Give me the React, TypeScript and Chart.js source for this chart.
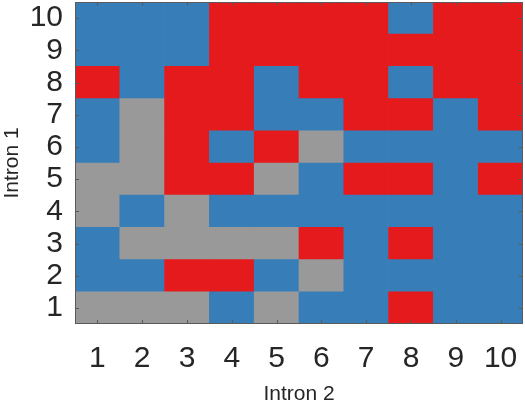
import React, { useEffect, useRef } from "react";
import { Chart, registerables } from "chart.js";

Chart.register(...registerables);

// Column categories (Intron 2) and row values (Intron 1)
const xLabels = ["1", "2", "3", "4", "5", "6", "7", "8", "9", "10"];
const yTicks = [1, 2, 3, 4, 5, 6, 7, 8, 9, 10];

// Cell classes, B = blue, R = red, G = gray; one array per Intron 1 row (1..10)
const row1 = ["G", "G", "G", "B", "G", "B", "B", "R", "B", "B"];
const row2 = ["B", "B", "R", "R", "B", "G", "B", "B", "B", "B"];
const row3 = ["B", "G", "G", "G", "G", "R", "B", "R", "B", "B"];
const row4 = ["G", "B", "G", "B", "B", "B", "B", "B", "B", "B"];
const row5 = ["G", "G", "R", "R", "G", "B", "R", "R", "B", "R"];
const row6 = ["B", "G", "R", "B", "R", "G", "B", "B", "B", "B"];
const row7 = ["B", "G", "R", "R", "B", "B", "R", "R", "B", "R"];
const row8 = ["R", "B", "R", "R", "B", "R", "R", "B", "R", "R"];
const row9 = ["B", "B", "B", "R", "R", "R", "R", "R", "R", "R"];
const row10 = ["B", "B", "B", "R", "R", "R", "R", "B", "R", "R"];
const rows = [row1, row2, row3, row4, row5, row6, row7, row8, row9, row10];

const palette: Record<string, string> = {
  B: "#377eb8",
  R: "#e41a1c",
  G: "#999999",
};

const TEXT = "#262626";
const AXIS = "#5a5a5a";

const boxPlugin = {
  id: "boxAndTicks",
  afterDatasetsDraw(chart: any) {
    const { ctx, chartArea, scales } = chart;
    const { left, right, top, bottom } = chartArea;
    const len = 4;
    ctx.save();
    ctx.strokeStyle = AXIS;
    ctx.lineWidth = 1;
    ctx.beginPath();
    scales.x.ticks.forEach((_t: any, i: number) => {
      const px = Math.round(scales.x.getPixelForTick(i)) + 0.5;
      ctx.moveTo(px, bottom);
      ctx.lineTo(px, bottom - len);
      ctx.moveTo(px, top);
      ctx.lineTo(px, top + len);
    });
    scales.y.ticks.forEach((t: any) => {
      const py = Math.round(scales.y.getPixelForValue(t.value)) + 0.5;
      ctx.moveTo(left, py);
      ctx.lineTo(left + len, py);
      ctx.moveTo(right, py);
      ctx.lineTo(right - len, py);
    });
    ctx.stroke();
    ctx.strokeRect(left + 0.5, top + 0.5, right - left - 1, bottom - top - 1);
    ctx.restore();
  },
};

export default function App() {
  const ref = useRef<HTMLCanvasElement | null>(null);

  useEffect(() => {
    document.body.style.margin = "0";
    if (!ref.current) return;
    Chart.defaults.font.family = "'Liberation Sans', Arial, sans-serif";
    const datasets = rows.map((row, i) => ({
      label: "Intron 1 = " + yTicks[i],
      data: row.map(() => [yTicks[i] - 0.5, yTicks[i] + 0.5]),
      backgroundColor: row.map((c) => palette[c]),
      borderColor: row.map((c) => palette[c]),
      borderWidth: 0,
      borderSkipped: false,
      grouped: false,
      barPercentage: 1,
      categoryPercentage: 1,
    }));
    const chart = new Chart(ref.current, {
      type: "bar",
      data: { labels: xLabels, datasets: datasets as any },
      plugins: [boxPlugin],
      options: {
        responsive: false,
        animation: false,
        devicePixelRatio: 1,
        layout: { padding: { top: 2, right: 2, left: 0, bottom: 0 } },
        plugins: { legend: { display: false }, tooltip: { enabled: false } },
        scales: {
          x: {
            type: "category",
            offset: true,
            grid: { display: false, drawTicks: false },
            border: { display: false },
            ticks: {
              color: TEXT,
              font: { size: 30 },
              padding: 17,
              maxRotation: 0,
              autoSkip: false,
            },
            title: {
              display: true,
              text: "Intron 2",
              color: TEXT,
              font: { size: 21 },
              padding: { top: 0, bottom: -3 },
            },
            afterFit: (s: any) => {
              s.height = 80;
              s.paddingLeft = 0;
              s.paddingRight = 0;
            },
          },
          y: {
            type: "linear",
            min: 0.5,
            max: 10.5,
            grid: { display: false, drawTicks: false },
            border: { display: false },
            afterBuildTicks: (s: any) => {
              s.ticks = yTicks.map((v) => ({ value: v }));
            },
            ticks: {
              color: TEXT,
              font: { size: 30 },
              padding: 12,
              autoSkip: false,
              callback: (v: any) => String(v),
            },
            title: {
              display: true,
              text: "Intron 1",
              color: TEXT,
              font: { size: 21 },
              padding: 0,
            },
            afterFit: (s: any) => {
              s.width = 75;
              s.paddingTop = 0;
              s.paddingBottom = 0;
            },
          },
        },
      },
    });
    return () => chart.destroy();
  }, []);

  return (
    <div style={{ position: "absolute", left: 0, top: 0, width: 525, height: 404 }}>
      <canvas ref={ref} width={525} height={404} />
    </div>
  );
}
